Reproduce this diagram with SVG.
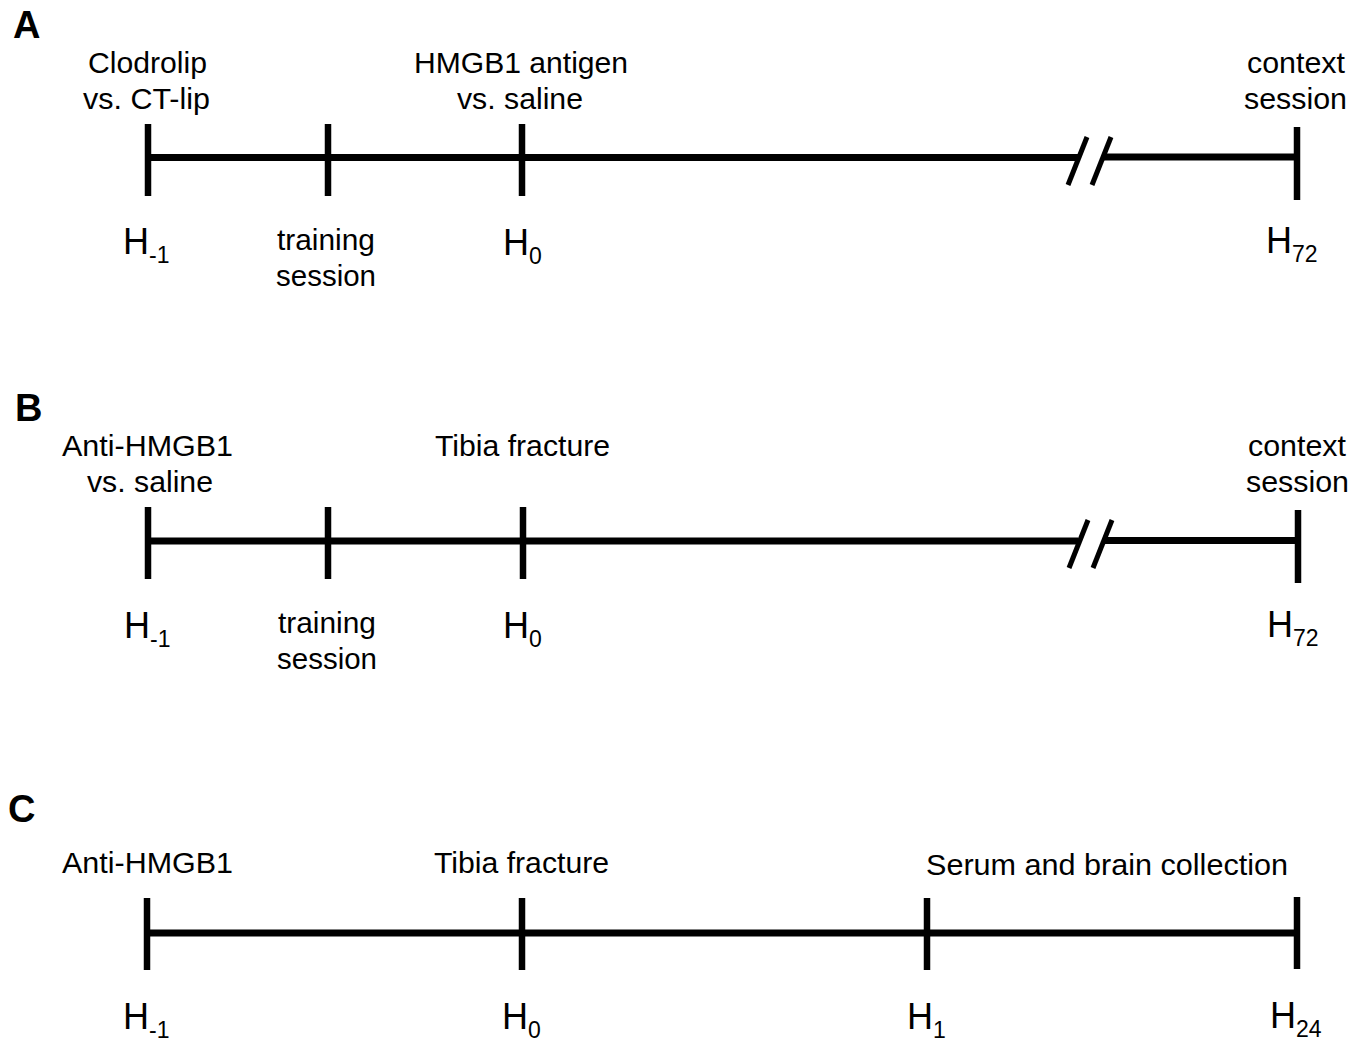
<svg xmlns="http://www.w3.org/2000/svg" width="1366" height="1042" viewBox="0 0 1366 1042">
<style>
.bg{fill:#fff}
.lbl{font-family:"Liberation Sans",Arial,sans-serif;font-size:29px;fill:#000}
.h{font-family:"Liberation Sans",Arial,sans-serif;font-size:36px;fill:#000}
.sub{font-size:23px}
.pl{font-family:"Liberation Sans",Arial,sans-serif;font-weight:bold;font-size:38px;fill:#000}
.axis{stroke:#000;stroke-width:7;fill:none}
.tick{stroke:#000;stroke-width:6.5;fill:none}
.brk{stroke:#000;stroke-width:5;fill:none}
</style>
<rect class="bg" x="0" y="0" width="1366" height="1042"/>

<g id="panelA">
  <text class="pl" x="13" y="38">A</text>
  <g id="A-connectors">
    <line class="axis" x1="146" y1="157.5" x2="1078" y2="157.5"/>
    <line class="axis" x1="1104" y1="157" x2="1298" y2="157"/>
    <line class="brk" x1="1087" y1="137" x2="1068" y2="185"/>
    <line class="brk" x1="1111" y1="137" x2="1092" y2="185"/>
  </g>
  <g id="A-t1"><line class="tick" x1="148" y1="124" x2="148" y2="196"/>
    <text class="lbl" x="88" y="73" textLength="119" lengthAdjust="spacingAndGlyphs">Clodrolip</text>
    <text class="lbl" x="83" y="109" textLength="127" lengthAdjust="spacingAndGlyphs">vs. CT-lip</text>
    <text class="h" x="123" y="254">H<tspan class="sub" dy="9">-1</tspan></text></g>
  <g id="A-t2"><line class="tick" x1="328" y1="124" x2="328" y2="196"/>
    <text class="lbl" x="277" y="250" textLength="98" lengthAdjust="spacingAndGlyphs">training</text>
    <text class="lbl" x="276" y="286" textLength="100" lengthAdjust="spacingAndGlyphs">session</text></g>
  <g id="A-t3"><line class="tick" x1="522" y1="124" x2="522" y2="196"/>
    <text class="lbl" x="414" y="73" textLength="214" lengthAdjust="spacingAndGlyphs">HMGB1 antigen</text>
    <text class="lbl" x="457" y="109" textLength="126" lengthAdjust="spacingAndGlyphs">vs. saline</text>
    <text class="h" x="503" y="255">H<tspan class="sub" dy="9">0</tspan></text></g>
  <g id="A-t4"><line class="tick" x1="1297" y1="127" x2="1297" y2="200"/>
    <text class="lbl" x="1247" y="73" textLength="98" lengthAdjust="spacingAndGlyphs">context</text>
    <text class="lbl" x="1244" y="109" textLength="103" lengthAdjust="spacingAndGlyphs">session</text>
    <text class="h" x="1266" y="253">H<tspan class="sub" dy="9">72</tspan></text></g>
</g>

<g id="panelB">
  <text class="pl" x="15" y="421">B</text>
  <g id="B-connectors">
    <line class="axis" x1="146" y1="541" x2="1078" y2="541"/>
    <line class="axis" x1="1104" y1="540.5" x2="1298" y2="540.5"/>
    <line class="brk" x1="1088" y1="520" x2="1069" y2="568"/>
    <line class="brk" x1="1112" y1="520" x2="1093" y2="568"/>
  </g>
  <g id="B-t1"><line class="tick" x1="148" y1="507" x2="148" y2="579"/>
    <text class="lbl" x="62" y="456" textLength="171" lengthAdjust="spacingAndGlyphs">Anti-HMGB1</text>
    <text class="lbl" x="87" y="492" textLength="126" lengthAdjust="spacingAndGlyphs">vs. saline</text>
    <text class="h" x="124" y="638">H<tspan class="sub" dy="9">-1</tspan></text></g>
  <g id="B-t2"><line class="tick" x1="328" y1="507" x2="328" y2="579"/>
    <text class="lbl" x="278" y="633" textLength="98" lengthAdjust="spacingAndGlyphs">training</text>
    <text class="lbl" x="277" y="669" textLength="100" lengthAdjust="spacingAndGlyphs">session</text></g>
  <g id="B-t3"><line class="tick" x1="523" y1="507" x2="523" y2="579"/>
    <text class="lbl" x="435" y="456" textLength="175" lengthAdjust="spacingAndGlyphs">Tibia fracture</text>
    <text class="h" x="503" y="638">H<tspan class="sub" dy="9">0</tspan></text></g>
  <g id="B-t4"><line class="tick" x1="1298" y1="510" x2="1298" y2="583"/>
    <text class="lbl" x="1248" y="456" textLength="98" lengthAdjust="spacingAndGlyphs">context</text>
    <text class="lbl" x="1246" y="492" textLength="103" lengthAdjust="spacingAndGlyphs">session</text>
    <text class="h" x="1267" y="637">H<tspan class="sub" dy="9">72</tspan></text></g>
</g>

<g id="panelC">
  <text class="pl" x="8" y="822">C</text>
  <g id="C-connectors">
    <line class="axis" x1="145" y1="933" x2="1298" y2="933"/>
  </g>
  <g id="C-t1"><line class="tick" x1="147" y1="898" x2="147" y2="970"/>
    <text class="lbl" x="62" y="873" textLength="171" lengthAdjust="spacingAndGlyphs">Anti-HMGB1</text>
    <text class="h" x="123" y="1029">H<tspan class="sub" dy="9">-1</tspan></text></g>
  <g id="C-t2"><line class="tick" x1="522" y1="898" x2="522" y2="970"/>
    <text class="lbl" x="434" y="873" textLength="175" lengthAdjust="spacingAndGlyphs">Tibia fracture</text>
    <text class="h" x="502" y="1029">H<tspan class="sub" dy="9">0</tspan></text></g>
  <g id="C-t3"><line class="tick" x1="927" y1="898" x2="927" y2="970"/>
    <text class="lbl" x="926" y="875" textLength="362" lengthAdjust="spacingAndGlyphs">Serum and brain collection</text>
    <text class="h" x="907" y="1029">H<tspan class="sub" dy="9">1</tspan></text></g>
  <g id="C-t4"><line class="tick" x1="1297" y1="897" x2="1297" y2="969"/>
    <text class="h" x="1270" y="1028">H<tspan class="sub" dy="9">24</tspan></text></g>
</g>
</svg>
